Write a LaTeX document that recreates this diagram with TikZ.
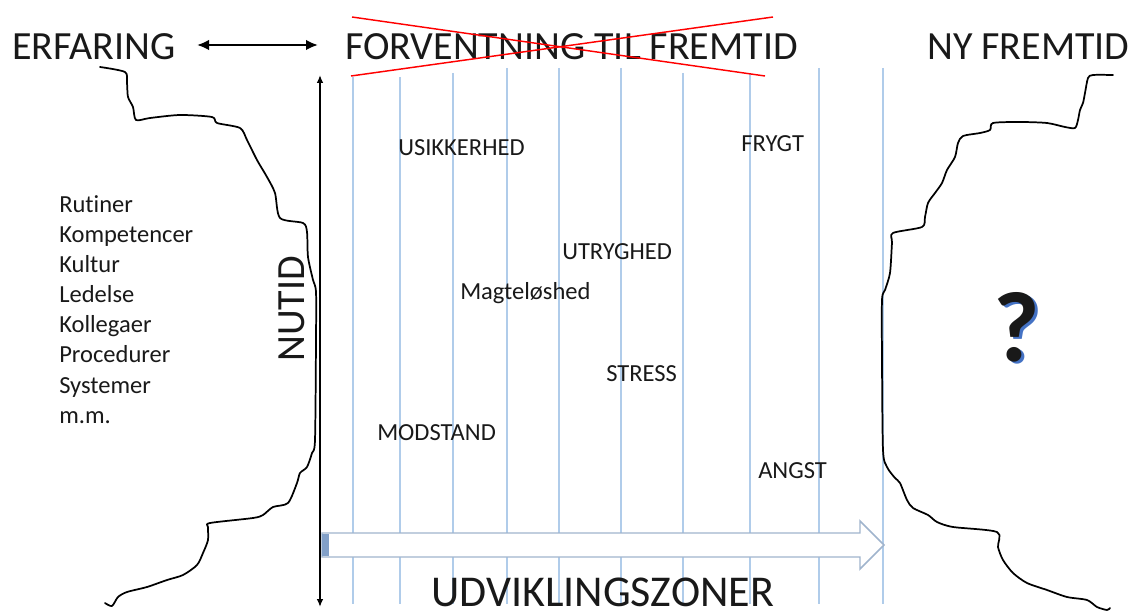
\documentclass[tikz,border=0pt]{standalone}
\usepackage{fontspec}
\setmainfont{Carlito}[Ligatures=NoCommon]
\usetikzlibrary{arrows.meta}
\definecolor{gridblue}{RGB}{176,204,234}
\definecolor{arrowedge}{RGB}{160,180,205}
\definecolor{arrowend}{RGB}{130,160,200}
\definecolor{qshadow}{RGB}{68,114,196}
\definecolor{txt}{RGB}{25,25,25}
\begin{document}
\begin{tikzpicture}[x=0.75pt,y=-0.75pt,
  big/.style={font=\fontsize{30}{36}\selectfont, inner sep=0pt, anchor=base west, text=txt},
  lbl/.style={font=\fontsize{18.4}{22}\selectfont, inner sep=0pt, anchor=base west, text=txt},
  gridline/.style={draw=gridblue, line width=0.9pt},
  contour/.style={draw=black, line width=1.3pt, line join=round, line cap=round},
  crossline/.style={draw=red, line width=1.1pt},
  axis/.style={draw=black, line width=1.4pt, {Latex[length=6pt,width=5pt]}-{Latex[length=6pt,width=5pt]}}
]
\useasboundingbox (0,0) rectangle (1133,613);
% grid lines
\foreach \gx/\gt in {353/77,400/77,453/73,507/68,559/68,621/68,683/73,750/73,819/68,883/68}{
  \draw[gridline] (\gx,\gt) -- (\gx,604);
}
% hollow arrow
\draw[draw=arrowedge, fill=white, line width=1.1pt, line join=miter]
  (322,533) -- (860,533) -- (860,521) -- (884,545) -- (860,569) -- (860,557) -- (322,557) -- cycle;
\fill[arrowend] (322,533.6) rectangle (329,556.4);
% left contour
\draw[contour] plot[smooth, tension=0.45] coordinates {
 (100,67) (125,72) (127,83) (128,97) (133,107) (136,120) (150,118) (180,115) (212,117)
 (217,123) (240,128) (247,140) (257,160) (267,177) (275,193) (280,218) (303,223)
 (307,232) (308,257) (313,280) (316,292) (316,340) (315,440) (312,453) (307,467)
 (300,473) (297,483) (288,503) (273,507) (263,515) (253,518) (210,523) (208,527)
 (208,540) (203,553) (197,565) (183,575) (167,580) (147,587) (127,592) (118,597)
 (112,606) (105,603)};
% right contour
\draw[contour] plot[smooth, tension=0.45] coordinates {
 (1113,75) (1093,75) (1088,78) (1085,93) (1083,103) (1080,110) (1078,120) (1075,128)
 (1065,127) (1047,123) (1020,122) (993,123) (990,130) (980,133) (963,136) (958,143)
 (955,157) (947,170) (942,183) (935,193) (928,203) (925,217) (922,227) (893,233)
 (892,243) (890,273) (885,290) (882,300) (882,360) (883,450) (887,467) (895,478)
 (900,483) (907,500) (913,508) (928,515) (937,522) (953,527) (997,532) (998,547)
 (1003,560) (1013,573) (1027,583) (1047,590) (1067,597) (1087,600) (1097,607)
 (1107,610) (1110,608)};
% titles
\node[big] (erf) at (12,60) {ERFARING};
\node[big] (forv) at (345,60) {FORVENTNING TIL FREMTID};
\node[big] (ny) at (927,60) {NY FREMTID};
\node[big, font=\fontsize{33}{38}\selectfont] (udv) at (431,606) {UDVIKLINGSZONER};
\node[big, anchor=base, rotate=90] (nutid) at (304,309) {NUTID};
% red cross
\coordinate (ra1) at (352,17); \coordinate (ra2) at (765,76);
\coordinate (rb1) at (351,76); \coordinate (rb2) at (773,17);
\draw[crossline] (ra1) -- (ra2);
\draw[crossline] (rb1) -- (rb2);
% double arrow
\coordinate (da1) at (197,45); \coordinate (da2) at (318,45);
\draw[draw=black, line width=1.9pt, {Latex[length=9pt,width=8pt]}-{Latex[length=9pt,width=8pt]}] (da1) -- (da2);
% vertical axis
\coordinate (ax1) at (320,75); \coordinate (ax2) at (320,607);
\draw[axis] (ax1) -- (ax2);
% left list
\foreach \w [count=\i] in {Rutiner,Kompetencer,Kultur,Ledelse,Kollegaer,Procedurer,Systemer,m.m.}{
  \node[lbl] (list\i) at (59,{213+30*(\i-1)}) {\w};
}
% middle labels
\node[lbl] (usik) at (398,156) {USIKKERHED};
\node[lbl] (frygt) at (741,152) {FRYGT};
\node[lbl] (utryg) at (562,260) {UTRYGHED};
\node[lbl] (magt) at (460,300) {Magteløshed};
\node[lbl] (stress) at (606,382) {STRESS};
\node[lbl] (modst) at (377,440) {MODSTAND};
\node[lbl] (angst) at (758,478) {ANGST};
% question mark with blue shadow
\node[font=\bfseries\fontsize{75}{80}\selectfont, text=txt, inner sep=0pt, anchor=base] (q) at (1017,362)
  {\rlap{\kern1.9pt\raisebox{-1.5pt}{\textcolor{qshadow}{?}}}?};
\end{tikzpicture}
\end{document}
